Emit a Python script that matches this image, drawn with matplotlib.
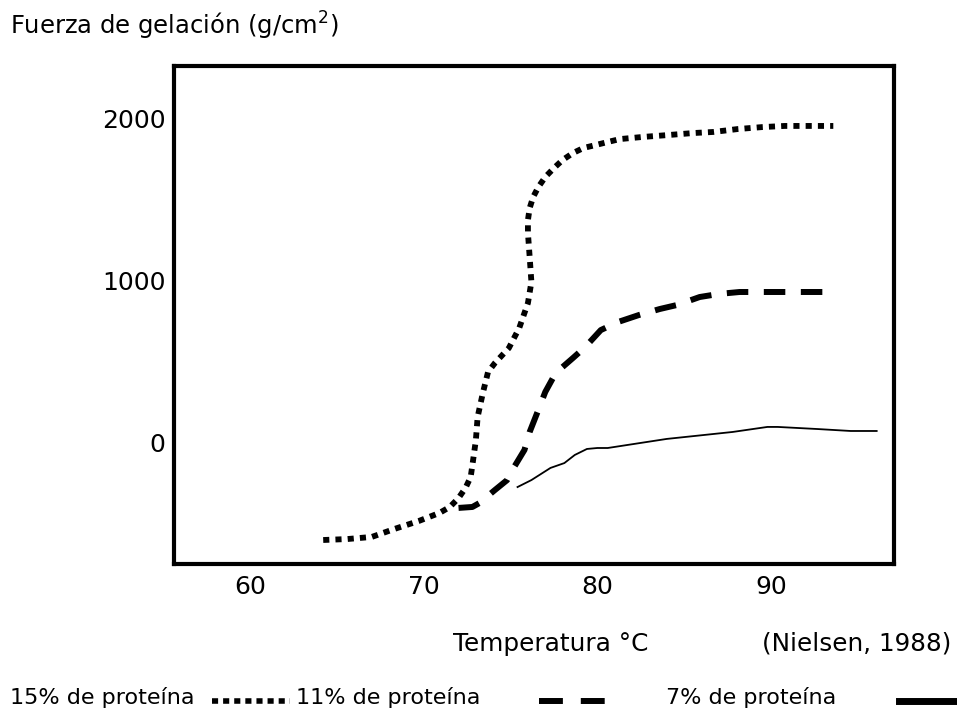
import matplotlib
matplotlib.use("Agg")
import matplotlib.pyplot as plt
from matplotlib.lines import Line2D

# curves (temperature in °C, gel strength in g/cm2)
temp_15 = [64.2, 65.6, 67.0, 68.3, 69.7, 70.9, 71.5, 72.0, 72.4, 72.7, 72.8, 73.0,
           73.1, 73.4, 73.7, 74.1, 74.9, 75.5, 76.0, 76.2, 76.1, 76.0, 76.0, 76.1,
           76.3, 76.6, 77.0, 77.5, 78.0, 78.6, 79.2, 79.9, 80.6, 81.3, 82.6, 84.1,
           85.5, 86.7, 88.1, 89.5, 90.8, 92.2, 93.6]
fuerza_15 = [-605, -599, -586, -537, -488, -438, -401, -346, -284, -216, -142, 12,
             154, 302, 432, 488, 580, 704, 858, 988, 1142, 1290, 1370, 1444,
             1512, 1574, 1636, 1691, 1741, 1784, 1815, 1833, 1852, 1870, 1883, 1895,
             1907, 1914, 1932, 1944, 1951, 1951, 1951]

temp_11 = [72.0, 72.8, 73.2, 74.1, 74.8, 75.1, 75.8, 76.1, 76.6, 77.0, 77.6, 78.6,
           79.3, 80.2, 81.2, 82.4, 83.6, 84.6, 85.9, 87.0, 88.2, 89.4, 90.7, 93.1]
fuerza_11 = [-407, -401, -377, -296, -235, -173, -49, 62, 198, 309, 426, 519,
             586, 691, 741, 784, 821, 846, 895, 914, 926, 926, 926, 926]

temp_7 = [75.4, 76.2, 77.3, 78.1, 78.7, 79.4, 80.0, 80.6, 84.0, 87.8, 89.8, 90.4,
          92.7, 94.6, 96.1]
fuerza_7 = [-278, -235, -160, -130, -80, -43, -37, -37, 19, 62, 93, 93,
            80, 68, 68]

x_ticks = [60, 70, 80, 90]
y_ticks = [0, 1000, 2000]

plt.rcParams['font.family'] = ['DejaVu Sans']
fig = plt.figure(figsize=(9.57, 7.13), dpi=100)
ax = fig.add_axes([0.1818, 0.2090, 0.7524, 0.6991])

ax.plot(temp_15, fuerza_15, color='black', lw=4.2, dashes=(1.05, 1.05),
        dash_capstyle='butt', solid_joinstyle='round')
ax.plot(temp_11, fuerza_11, color='black', lw=4.3, dashes=(3.6, 2.6),
        dash_capstyle='butt')
ax.plot(temp_7, fuerza_7, color='black', lw=1.3)

ax.set_xlim(55.6, 97.1)
ax.set_ylim(-753, 2324)
ax.set_xticks(x_ticks)
ax.set_yticks(y_ticks)
ax.tick_params(length=0, labelsize=18, pad=6)
ax.tick_params(axis='x', pad=8)
for s in ax.spines.values():
    s.set_linewidth(3)

fig.text(10 / 957, 1 - 26 / 713, 'Fuerza de gelación (g/cm$^2$)', fontsize=17.5,
         va='center', ha='left')
fig.text(453 / 957, 1 - 644 / 713, 'Temperatura °C', fontsize=17.8, va='center', ha='left')
fig.text(951 / 957, 1 - 644 / 713, '(Nielsen, 1988)', fontsize=17.8, va='center', ha='right')

# legend row along the bottom
ly = 1 - 697 / 713
fig.text(10 / 957, ly, '15% de proteína', fontsize=16, va='center', ha='left')
fig.add_artist(Line2D([212 / 957, 290 / 957], [ly - 0.006, ly - 0.006], color='black',
                      lw=4.0, dashes=(1.1, 0.9), dash_capstyle='butt'))
fig.text(296 / 957, ly, '11% de proteína', fontsize=16, va='center', ha='left')
fig.add_artist(Line2D([539 / 957, 606 / 957], [ly - 0.006, ly - 0.006], color='black',
                      lw=4.3, dashes=(4.0, 3.0), dash_capstyle='butt'))
fig.text(666 / 957, ly, '7% de proteína', fontsize=16, va='center', ha='left')
fig.add_artist(Line2D([899 / 957, 957 / 957], [ly - 0.006, ly - 0.006], color='black',
                      lw=5.0))

fig.savefig('out.png', dpi=100)
